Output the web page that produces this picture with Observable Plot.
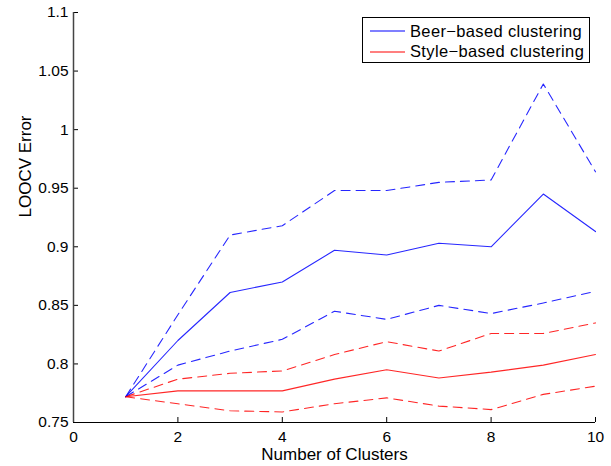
<!DOCTYPE html>
<html>
<head>
<meta charset="utf-8">
<script src="https://cdn.jsdelivr.net/npm/d3@7"></script>
<script src="https://cdn.jsdelivr.net/npm/@observablehq/plot@0.6"></script>
<style>
  html, body { margin: 0; padding: 0; background: #fff; }
  #wrap { position: relative; width: 611px; height: 466px; font-family: "Liberation Sans", Arial, sans-serif; }
  #legend { position: absolute; left: 362px; top: 17px; width: 226px; height: 44px; border: 1px solid #000; background: #fff; }
  .row { position: absolute; left: 0; height: 20px; display: flex; align-items: center; font-size: 16.5px; letter-spacing: 0.35px; color: #000; }
  .sw { display: block; margin-left: 7px; margin-right: 5px; }
</style>
</head>
<body>
<div id="wrap">
  <div id="chart"></div>
  <div id="legend"></div>
</div>
<script>
const clusters = [1, 2, 3, 4, 5, 6, 7, 8, 9, 10];
const beerMean  = [0.772, 0.820, 0.861, 0.870, 0.897, 0.893, 0.903, 0.900, 0.945, 0.913];
const beerUpper = [0.772, 0.842, 0.910, 0.918, 0.948, 0.948, 0.955, 0.957, 1.039, 0.964];
const beerLower = [0.772, 0.799, 0.811, 0.821, 0.845, 0.838, 0.850, 0.843, 0.852, 0.862];
const styleMean  = [0.772, 0.777, 0.777, 0.777, 0.787, 0.795, 0.788, 0.793, 0.799, 0.808];
const styleUpper = [0.772, 0.787, 0.792, 0.794, 0.808, 0.819, 0.811, 0.826, 0.826, 0.835];
const styleLower = [0.772, 0.766, 0.760, 0.759, 0.766, 0.771, 0.764, 0.761, 0.774, 0.781];
const xTicks = [0, 2, 4, 6, 8, 10];
const yTicks = [0.75, 0.8, 0.85, 0.9, 0.95, 1, 1.05, 1.1];
const legendLabels = ["Beer\u2212based clustering", "Style\u2212based clustering"];
const colors = ["#0000ff", "#ff0000"];
const xLabel = "Number of Clusters";
const yLabel = "LOOCV Error";

const series = [
  {values: beerUpper, color: colors[0], dash: "9,6"},
  {values: beerLower, color: colors[0], dash: "9,6"},
  {values: styleUpper, color: colors[1], dash: "9,6"},
  {values: styleLower, color: colors[1], dash: "9,6"},
  {values: beerMean, color: colors[0], dash: null},
  {values: styleMean, color: colors[1], dash: null}
];

const W = 611, H = 466, mL = 73, mR = 16, mT = 12, mB = 44;
const font = "Liberation Sans, Arial, sans-serif";

const lineMarks = series.map(s => Plot.line(clusters.map((k, i) => ({k, v: s.values[i]})), {
  x: "k", y: "v", stroke: s.color, strokeWidth: 1.1, strokeOpacity: 0.85, strokeDasharray: s.dash, curve: "linear"
}));

const chart = Plot.plot({
  width: W, height: H,
  marginLeft: mL, marginRight: mR, marginTop: mT, marginBottom: mB,
  style: {fontFamily: font, background: "#fff", overflow: "visible"},
  x: {domain: [0, 10]},
  y: {domain: [0.75, 1.1]},
  marks: [
    ...lineMarks,
    Plot.axisX(xTicks, {tickSize: 0, tickPadding: 8, fontSize: 15.5, tickFormat: d => String(d), label: null, fill: "#000"}),
    Plot.axisY(yTicks, {tickSize: 0, tickPadding: 5, fontSize: 15.5, tickFormat: d => String(d), label: null, fill: "#000"}),
    Plot.tickX(xTicks, {x: d => d, insetTop: H - mT - mB - 5, stroke: "#000"}),
    Plot.tickY(yTicks, {y: d => d, insetRight: W - mL - mR - 5, stroke: "#000"}),
    Plot.ruleY([0.75], {stroke: "#000", strokeWidth: 1}),
    Plot.ruleX([0], {stroke: "#444", strokeWidth: 1.5}),
    Plot.text([xLabel], {text: d => d, frameAnchor: "bottom", dy: 32, lineAnchor: "middle", fontSize: 17, fill: "#000"}),
    Plot.text([yLabel], {text: d => d, frameAnchor: "left", dx: -48, rotate: -90, lineAnchor: "middle", fontSize: 17, fill: "#000"})
  ]
});
document.getElementById("chart").appendChild(chart);

const legend = document.getElementById("legend");
const svgNS = "http://www.w3.org/2000/svg";
legendLabels.forEach((lab, i) => {
  const row = document.createElement("div");
  row.className = "row";
  row.style.top = (i === 0 ? 3 : 23.5) + "px";
  const sw = document.createElementNS(svgNS, "svg");
  sw.setAttribute("width", "35");
  sw.setAttribute("height", "4");
  sw.setAttribute("class", "sw");
  const ln = document.createElementNS(svgNS, "line");
  ln.setAttribute("x1", "0"); ln.setAttribute("x2", "35");
  ln.setAttribute("y1", "2"); ln.setAttribute("y2", "2");
  ln.setAttribute("stroke", colors[i]);
  ln.setAttribute("stroke-width", "1.2");
  sw.appendChild(ln);
  const t = document.createElement("span");
  t.textContent = lab;
  row.appendChild(sw);
  row.appendChild(t);
  legend.appendChild(row);
});
</script>
</body>
</html>
